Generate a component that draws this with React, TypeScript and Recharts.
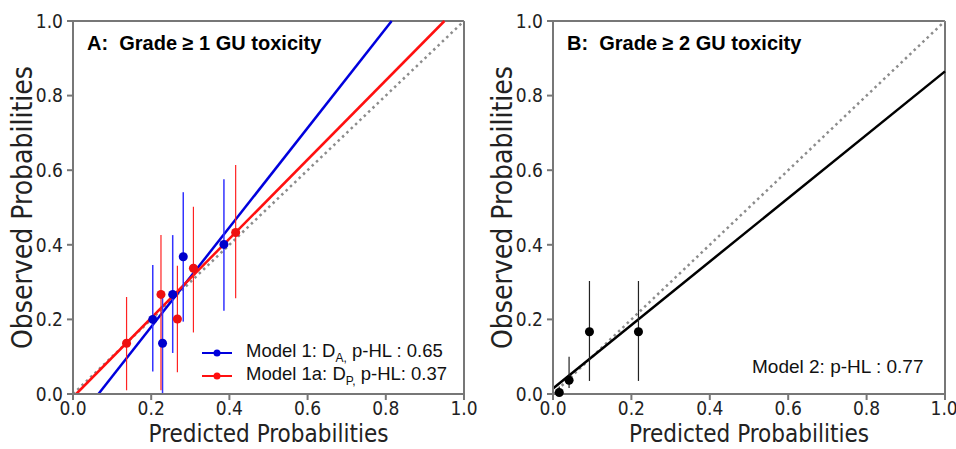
import React from "react";
import {
  ComposedChart,
  Line,
  Scatter,
  ErrorBar,
  XAxis,
  YAxis,
  ReferenceLine,
} from "recharts";

// panel A: binned observed vs predicted, model 1 (blue) and model 1a (red)
const blueX = [0.204, 0.229, 0.255, 0.282, 0.386];
const blueY = [0.2, 0.136, 0.267, 0.368, 0.401];
const blueLow = [0.06, 0.0, 0.11, 0.194, 0.223];
const blueHigh = [0.346, 0.27, 0.426, 0.541, 0.576];

const redX = [0.137, 0.225, 0.267, 0.308, 0.416];
const redY = [0.136, 0.267, 0.201, 0.337, 0.433];
const redLow = [0.01, 0.01, 0.058, 0.165, 0.257];
const redHigh = [0.26, 0.426, 0.344, 0.502, 0.614];

// fitted calibration lines (end points)
const blueFitX = [0.065, 0.815];
const blueFitY = [0, 1];
const redFitX = [0.008, 0.95];
const redFitY = [0, 1];

// panel B: model 2
const blackX = [0.016, 0.041, 0.093, 0.218];
const blackY = [0.004, 0.037, 0.167, 0.167];
const blackLow = [0.0, 0.016, 0.035, 0.035];
const blackHigh = [0.02, 0.1, 0.303, 0.303];
const blackFitX = [0, 1];
const blackFitY = [0.015, 0.865];

const idealX = [0, 1];
const idealY = [0, 1];
const ticks = [0, 0.2, 0.4, 0.6, 0.8, 1.0];

const toPts = (xs: number[], ys: number[]) => xs.map((x, i) => ({ x, y: ys[i] }));
const toBins = (xs: number[], ys: number[], lo: number[], hi: number[]) =>
  xs.map((x, i) => ({ x, y: ys[i], err: [ys[i] - lo[i], hi[i] - ys[i]] }));

const axisFont = "'DejaVu Sans Condensed', 'Liberation Sans Narrow', 'DejaVu Sans', sans-serif";
const textFont = "'Liberation Sans', Arial, sans-serif";
const axisColor = "#777";

function Panel({
  children,
  marginLeft,
  marginRight,
  yLabelOffset,
}: {
  children: React.ReactNode;
  marginLeft: number;
  marginRight: number;
  yLabelOffset: number;
}) {
  return (
    <ComposedChart
      width={478}
      height={449}
      margin={{ top: 21, right: marginRight, bottom: 0, left: marginLeft }}
    >
      <XAxis
        type="number"
        dataKey="x"
        domain={[0, 1]}
        ticks={ticks}
        tickFormatter={(v) => v.toFixed(1)}
        height={55}
        stroke={axisColor}
        strokeWidth={2}
        tick={{ fill: "#222", fontSize: 19, fontFamily: axisFont }}
        label={{
          value: "Predicted Probabilities",
          position: "insideBottom",
          offset: 7,
          style: { fontSize: 24, fill: "#222", fontFamily: axisFont },
        }}
      />
      <YAxis
        type="number"
        dataKey="y"
        domain={[0, 1]}
        ticks={ticks}
        tickFormatter={(v) => v.toFixed(1)}
        width={67}
        stroke={axisColor}
        strokeWidth={2}
        tickMargin={4}
        tick={{ fill: "#222", fontSize: 19, fontFamily: axisFont }}
        label={{
          value: "Observed Probabilities",
          angle: -90,
          position: "insideLeft",
          offset: yLabelOffset,
          style: { fontSize: 28, fill: "#222", fontFamily: axisFont, textAnchor: "middle" },
        }}
      />
      <ReferenceLine y={1} stroke={axisColor} strokeWidth={2} />
      <ReferenceLine x={1} stroke={axisColor} strokeWidth={2} />
      <Line
        data={toPts(idealX, idealY)}
        dataKey="y"
        stroke="#8c8c8c"
        strokeWidth={2.5}
        strokeDasharray="2.5 3.5"
        dot={false}
        isAnimationActive={false}
      />
      {children}
    </ComposedChart>
  );
}

export default function App() {
  return (
    <div
      style={{
        position: "absolute",
        left: 0,
        top: 0,
        width: 956,
        height: 449,
        background: "#fff",
        overflow: "hidden",
      }}
    >
      <div style={{ position: "absolute", left: 0, top: 0 }}>
        <Panel marginLeft={6} marginRight={14} yLabelOffset={16}>
          <Line
            data={toPts(blueFitX, blueFitY)}
            dataKey="y"
            stroke="#0000dd"
            strokeWidth={2.5}
            dot={false}
            isAnimationActive={false}
          />
          <Line
            data={toPts(redFitX, redFitY)}
            dataKey="y"
            stroke="#ff1010"
            strokeWidth={2.5}
            dot={false}
            isAnimationActive={false}
          />
          <Scatter data={toBins(blueX, blueY, blueLow, blueHigh)} fill="#0000cc" isAnimationActive={false}>
            <ErrorBar dataKey="err" direction="y" width={0} stroke="#3333ff" strokeWidth={1.5} />
          </Scatter>
          <Scatter data={toBins(redX, redY, redLow, redHigh)} fill="#ee1111" isAnimationActive={false}>
            <ErrorBar dataKey="err" direction="y" width={0} stroke="#ff2222" strokeWidth={1.2} />
          </Scatter>
        </Panel>
      </div>
      <div style={{ position: "absolute", left: 478, top: 0 }}>
        <Panel marginLeft={8} marginRight={11} yLabelOffset={16}>
          <Line
            data={toPts(blackFitX, blackFitY)}
            dataKey="y"
            stroke="#000"
            strokeWidth={2.5}
            dot={false}
            isAnimationActive={false}
          />
          <Scatter data={toBins(blackX, blackY, blackLow, blackHigh)} fill="#000" isAnimationActive={false}>
            <ErrorBar dataKey="err" direction="y" width={0} stroke="#222" strokeWidth={1.2} />
          </Scatter>
        </Panel>
      </div>

      {/* panel titles */}
      <div style={{ position: "absolute", left: 87, top: 32, fontFamily: textFont, fontWeight: "bold", fontSize: 20, color: "#000", whiteSpace: "pre" }}>
        {"A:  Grade \u2265 1 GU toxicity"}
      </div>
      <div style={{ position: "absolute", left: 567, top: 32, fontFamily: textFont, fontWeight: "bold", fontSize: 20, color: "#000", whiteSpace: "pre" }}>
        {"B:  Grade \u2265 2 GU toxicity"}
      </div>

      {/* legend panel A */}
      <div style={{ position: "absolute", left: 200, top: 341, fontFamily: textFont, fontSize: 18.5, color: "#111" }}>
        {[
          { color: "#0000dd", sub: "A,", rest: " p-HL : 0.65", name: "Model 1: D" },
          { color: "#ff1010", sub: "P,", rest: " p-HL: 0.37", name: "Model 1a: D" },
        ].map((e) => (
          <div key={e.name} style={{ display: "flex", alignItems: "center", height: 23 }}>
            <svg width={40} height={12} style={{ marginRight: 6 }}>
              <line x1={2} y1={6} x2={32} y2={6} stroke={e.color} strokeWidth={2} />
              <circle cx={17} cy={6} r={3.5} fill={e.color} />
            </svg>
            <span>
              {e.name}
              <sub style={{ fontSize: 12 }}>{e.sub}</sub>
              {e.rest}
            </span>
          </div>
        ))}
      </div>

      <div style={{ position: "absolute", left: 752, top: 356, fontFamily: textFont, fontSize: 19, color: "#111" }}>
        Model 2: p-HL : 0.77
      </div>
    </div>
  );
}
